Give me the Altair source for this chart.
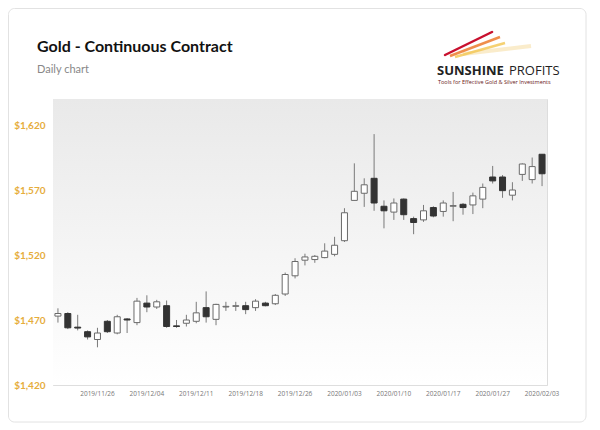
import altair as alt
import pandas as pd

dates = ["2019/11/20", "2019/11/21", "2019/11/22", "2019/11/25", "2019/11/26",
         "2019/11/27", "2019/11/29", "2019/12/02", "2019/12/03", "2019/12/04",
         "2019/12/05", "2019/12/06", "2019/12/09", "2019/12/10", "2019/12/11",
         "2019/12/12", "2019/12/13", "2019/12/16", "2019/12/17", "2019/12/18",
         "2019/12/19", "2019/12/20", "2019/12/23", "2019/12/24", "2019/12/26",
         "2019/12/27", "2019/12/30", "2019/12/31", "2020/01/02", "2020/01/03",
         "2020/01/06", "2020/01/07", "2020/01/08", "2020/01/09", "2020/01/10",
         "2020/01/13", "2020/01/14", "2020/01/15", "2020/01/16", "2020/01/17",
         "2020/01/21", "2020/01/22", "2020/01/23", "2020/01/24", "2020/01/27",
         "2020/01/28", "2020/01/29", "2020/01/30", "2020/01/31", "2020/02/03"]

opens = [1473, 1475, 1464.5, 1461, 1455, 1469, 1460, 1470.8, 1468, 1483,
         1480, 1481, 1465.5, 1467.5, 1469, 1479.5, 1470.5, 1480, 1480.5, 1481,
         1479.5, 1483, 1482.5, 1490, 1504, 1516, 1516.5, 1518, 1520.5, 1531,
         1562, 1567.5, 1579, 1557.5, 1553, 1563, 1548, 1547, 1556.5, 1553.5,
         1557.5, 1559, 1558.5, 1563, 1580, 1580, 1566, 1582, 1578, 1597.5]
highs = [1479, 1476, 1474, 1462, 1464, 1470, 1474, 1471.5, 1487, 1489,
         1485.5, 1485, 1470, 1474, 1484, 1492, 1482.5, 1484, 1484, 1484,
         1486, 1484, 1490, 1506.5, 1517.5, 1521, 1520, 1529, 1534, 1556,
         1590.5, 1579, 1613, 1562, 1563.5, 1563.5, 1549.5, 1558.5, 1557.5, 1562,
         1568.5, 1560, 1568, 1575, 1588.5, 1581.5, 1576, 1590.5, 1595, 1597.5]
lows = [1468, 1463, 1462, 1455, 1449, 1460, 1459, 1460, 1466, 1476,
        1478.5, 1464, 1464, 1465, 1467.5, 1468, 1466, 1477, 1477, 1474.5,
        1477, 1480.5, 1481.5, 1488.5, 1502, 1512, 1514, 1517.5, 1519, 1530,
        1562, 1557, 1554, 1540.5, 1547, 1547, 1536, 1545.5, 1549, 1549.5,
        1546, 1551, 1551.5, 1556, 1575, 1564, 1562, 1577, 1575, 1573]
closes = [1475, 1464, 1463.8, 1457, 1460, 1461, 1472.5, 1470, 1484.5, 1480,
          1484, 1465, 1465, 1470, 1475.5, 1472.5, 1482, 1480.5, 1481, 1478,
          1484.5, 1481, 1489, 1505, 1515, 1518.5, 1519, 1523, 1527.5, 1552.5,
          1569, 1574, 1560, 1554, 1560, 1551, 1545, 1554, 1550, 1560,
          1558, 1556.5, 1565.5, 1572, 1577, 1569.5, 1570, 1590, 1588, 1582.5]

label_dates = ["2019/11/26", "2019/12/04", "2019/12/11", "2019/12/18", "2019/12/26",
               "2020/01/03", "2020/01/10", "2020/01/17", "2020/01/27", "2020/02/03"]
y_ticks = [1420, 1470, 1520, 1570, 1620]

title_text = "Gold - Continuous Contract"
subtitle_text = "Daily chart"
logo_a = "SUNSHINE"
logo_b = "PROFITS"
logo_tag = "Tools for Effective Gold & Silver Investments"

df = pd.DataFrame({"date": dates, "open": opens, "high": highs,
                   "low": lows, "close": closes})
df["dir"] = ["up" if c >= o else "down" for o, c in zip(opens, closes)]

x_enc = alt.X("date:O", sort=dates,
              scale=alt.Scale(paddingInner=0, paddingOuter=0),
              axis=alt.Axis(values=label_dates, labelAngle=0, ticks=False,
                            domain=False, grid=False, labelFontSize=6.5,
                            labelColor="#777777", labelPadding=5, title=None,
                            labelFont="Open Sans"))
y_scale = alt.Scale(domain=[1420, 1640], nice=False, zero=False)

base = alt.Chart(df)
one = pd.DataFrame({"k": [0]})

bg = alt.Chart(one).mark_rect(
    fill=alt.LinearGradient(gradient="linear",
                            stops=[alt.GradientStop(color="#e9e9e9", offset=0),
                                   alt.GradientStop(color="#ffffff", offset=1)],
                            x1=0, x2=0, y1=0, y2=1)).encode(
    x=alt.value(0), x2=alt.value("width"), y=alt.value(0), y2=alt.value("height"))

wicks = base.mark_rule(color="#7a7a7a", strokeWidth=1).encode(
    x=x_enc,
    y=alt.Y("low:Q", scale=y_scale,
            axis=alt.Axis(values=y_ticks, format="$,.0f", ticks=False,
                          domain=False, gridColor="#dedede",
                          labelColor="#e6ad3c", labelFontSize=10,
                          labelFont="Lato", labelFontWeight="bold",
                          labelPadding=8, title=None)),
    y2="high:Q",
)

bodies = base.mark_bar(size=6, strokeWidth=1).encode(
    x=alt.X("date:O", sort=dates),
    y=alt.Y("open:Q", scale=y_scale),
    y2="close:Q",
    fill=alt.Fill("dir:N", scale=alt.Scale(domain=["up", "down"],
                                           range=["#ffffff", "#333333"]),
                  legend=None),
    stroke=alt.Stroke("dir:N", scale=alt.Scale(domain=["up", "down"],
                                               range=["#6a6a6a", "#333333"]),
                      legend=None),
)

card = alt.Chart(one).mark_rect(fill=None, stroke="#e2e2e2", strokeWidth=1,
                                cornerRadius=6).encode(
    x=alt.value(-44.5), x2=alt.value(533), y=alt.value(-90.5), y2=alt.value(323))

title = alt.Chart(pd.DataFrame({"t": [title_text]})).mark_text(
    align="left", baseline="alphabetic", font="Lato", fontWeight="bold",
    fontSize=16, color="#111111").encode(
    text="t:N", x=alt.value(-16), y=alt.value(-47))
subtitle = alt.Chart(pd.DataFrame({"t": [subtitle_text]})).mark_text(
    align="left", baseline="alphabetic", font="Lato",
    fontSize=11, color="#888888").encode(
    text="t:N", x=alt.value(-16), y=alt.value(-26))

swoosh_trail = alt.Chart(one).mark_rule(color="#f6dfa8", strokeWidth=4,
                                        opacity=0.6).encode(
    x=alt.value(410), x2=alt.value(478), y=alt.value(-45), y2=alt.value(-53))
swoosh_gold = alt.Chart(one).mark_rule(color="#f3c54f", strokeWidth=2.5,
                                       opacity=0.8).encode(
    x=alt.value(402), x2=alt.value(452), y=alt.value(-42), y2=alt.value(-56))
swoosh_orange = alt.Chart(one).mark_rule(color="#ec7a2c", strokeWidth=2.5,
                                         opacity=0.85).encode(
    x=alt.value(397), x2=alt.value(447), y=alt.value(-43), y2=alt.value(-62))
swoosh_red = alt.Chart(one).mark_rule(color="#c8102e", strokeWidth=2.5,
                                      strokeCap="round").encode(
    x=alt.value(392), x2=alt.value(439), y=alt.value(-44), y2=alt.value(-67))

logo1 = alt.Chart(pd.DataFrame({"t": [logo_a]})).mark_text(
    align="left", baseline="alphabetic", font="Open Sans", fontWeight="bold",
    fontSize=13, color="#222222").encode(
    text="t:N", x=alt.value(384), y=alt.value(-24))
logo2 = alt.Chart(pd.DataFrame({"t": [logo_b]})).mark_text(
    align="left", baseline="alphabetic", font="Open Sans",
    fontSize=13, color="#222222").encode(
    text="t:N", x=alt.value(456), y=alt.value(-24))
logo3 = alt.Chart(pd.DataFrame({"t": [logo_tag]})).mark_text(
    align="left", baseline="alphabetic", font="Open Sans",
    fontSize=5.5, color="#6b2020").encode(
    text="t:N", x=alt.value(385), y=alt.value(-15))

chart = alt.layer(card, bg, wicks, bodies, title, subtitle,
                  swoosh_trail, swoosh_gold, swoosh_orange, swoosh_red,
                  logo1, logo2, logo3).properties(
    width=494,
    height=286,
    autosize=alt.AutoSizeParams(type="none"),
    padding={"left": 45, "top": 91, "right": 45, "bottom": 38},
).configure_view(
    stroke="#d6d6d6",
).configure(background="#ffffff")

chart.save("out.html", embed_options={"renderer": "svg", "actions": False})
